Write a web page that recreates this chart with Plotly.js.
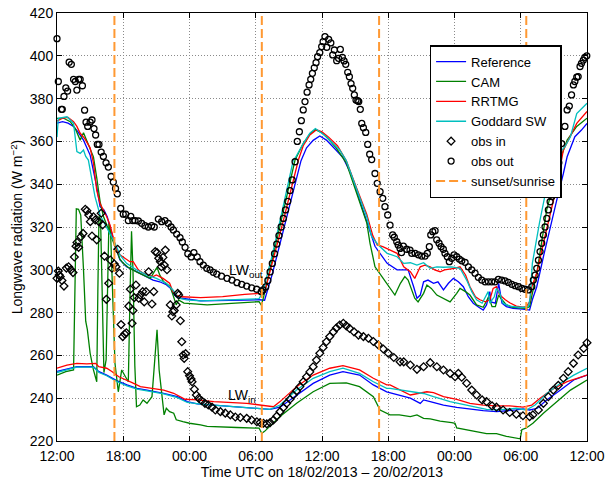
<!DOCTYPE html>
<html>
<head>
<meta charset="utf-8">
<script src="https://cdn.plot.ly/plotly-3.0.1.min.js"></script>
<style>html,body{margin:0;padding:0;background:#fff;}#chart{width:607px;height:480px;}</style>
</head>
<body>
<div id="chart"></div>
<script>
// x values are hours after 12:00 UTC on 18/02/2013
const tickHours = [0, 6, 12, 18, 24, 30, 36, 42, 48];
const tickLabels = ['12:00', '18:00', '00:00', '06:00', '12:00', '18:00', '00:00', '06:00', '12:00'];
const sunTimes = [5.2, 18.55, 29.17, 42.5];

const refOut = [[0,368.5],[0.5,369.2],[1,368.5],[1.5,367],[1.9,364.5],[2.4,360.6],[3,353.6],[3.3,346.6],[3.6,338.8],[3.9,329.5],[4.25,328],[4.55,324.8],[4.95,317],[5.25,311.6],[5.7,304.6],[6.3,301.4],[6.9,300],[7.5,298.4],[8.1,296.8],[8.7,295.2],[9.3,294.4],[9.9,293],[10.3,291.3],[10.5,289],[10.8,287.4],[11.3,286.7],[13,285.5],[15,285.5],[17,285.8],[18.3,286],[18.8,285.8],[19.5,298],[20.5,318],[21.5,338],[22.1,351],[22.6,357],[23.2,360.5],[23.8,362.5],[24.4,360.6],[25.2,356.3],[25.9,352.5],[26.6,345],[27.2,336],[27.9,325],[28.5,315.5],[28.8,311],[29.25,307.7],[29.9,303],[30.8,300],[31.4,300.2],[31.8,300],[32.3,292.1],[32.6,286.7],[32.9,288.2],[33.2,294.4],[33.6,295.2],[34.1,293.7],[34.5,294.4],[35,290.6],[35.45,293.7],[35.9,296],[36.35,294.4],[36.8,292.1],[37.25,287.4],[37.7,284.4],[38.2,282.5],[38.6,281.2],[38.9,283.6],[39.2,289.8],[39.3,285],[39.7,284.4],[40,293.7],[40.3,284.4],[40.7,282.8],[41.3,282],[42.2,281.6],[42.8,281.2],[43.05,286],[43.45,292.1],[44.05,306.1],[44.65,320],[45.26,332.6],[45.86,345],[46.2,352.8],[46.9,362.2],[47.5,365.3],[48,368.4]];
const refIn = [[0,252.5],[1.8,254.7],[3.3,254.7],[3.8,252.4],[4.5,250.8],[5.4,248.2],[6.34,246.2],[7.25,244.6],[8.15,243.8],[9.66,242.3],[10.9,240.7],[11.8,238.4],[12.7,237.3],[14.2,236.8],[17.2,235.8],[19.3,234.8],[20.2,235.8],[21.7,241.5],[23.2,246.9],[24.7,250.8],[25.9,252.4],[27.4,250.8],[28.65,246.2],[29.86,243],[31,241.5],[32,240],[32.9,237.6],[33.2,239.2],[33.8,238.4],[35,236.8],[36.2,235.7],[37.4,234.8],[38.6,234.2],[39.8,233.7],[40.8,234],[41.6,234.5],[42.2,235],[42.8,234.5],[43.5,235.3],[44.35,239.2],[45.6,243.8],[46.8,248.5],[48,250.8]];

const camOut = [[0,370.8],[0.6,370.8],[1.2,369.2],[1.65,366],[2.1,360.6],[2.4,364],[2.8,359],[3.3,352.8],[3.6,343],[3.9,332],[4.2,325],[4.5,321],[4.8,317],[5.1,313],[5.4,309],[5.7,305],[6,303],[6.5,301],[7.2,299],[8,297],[8.45,296],[8.8,299],[9.06,301.2],[9.3,297.6],[9.66,294.4],[10.26,292.1],[10.6,286.7],[10.8,283.6],[11,285.9],[11.5,284.4],[13.6,283.6],[16,284.3],[18.3,285.1],[18.5,283.5],[18.7,287],[19.5,305],[20.5,327],[21.56,351.3],[22.3,359],[22.9,363.5],[23.4,365.5],[24,364],[24.6,361],[25.2,357.5],[26.2,350],[27.15,336],[28.05,322],[28.35,312.4],[28.8,301.4],[29,300],[29.55,296],[30.2,291.3],[30.6,288.2],[31.1,293.7],[31.5,296.8],[31.8,295.2],[32.1,290.6],[32.4,286.7],[32.7,285],[33.2,289],[33.5,292.9],[33.9,291.3],[34.4,288.2],[35,286.7],[35.6,285],[36.2,289],[36.5,291.3],[37,289.8],[37.4,288.2],[38,283.6],[38.6,282.5],[39.1,287.4],[39.4,282.8],[39.7,282.8],[40,288.2],[40.3,286],[40.7,283.6],[41.3,282.5],[42.1,282],[42.5,282],[42.8,282.8],[43.1,289.8],[43.5,300],[44.35,328],[45,341],[45.6,352],[46.2,360.6],[47.07,367],[48,370.8]];
const camIn = [[0,250.8],[0.8,252.4],[1.5,253.2],[1.62,300],[1.75,328.5],[1.95,328.3],[2.15,325.6],[2.4,300],[2.6,276],[2.75,272],[3,261],[3.3,253.2],[3.6,247.7],[3.7,290],[3.8,325],[3.95,323],[4.1,290],[4.25,252],[4.45,258],[4.6,300],[4.7,321.7],[4.85,318],[5.05,290],[5.25,256.3],[5.55,243],[5.86,253.2],[6.2,250],[6.46,247.7],[6.62,290],[6.75,318],[6.88,300],[7.05,255],[7.2,236],[7.5,236.8],[7.8,239.2],[8.15,237.6],[8.6,240.7],[8.9,261],[9.06,272],[9.25,253.2],[9.63,236],[9.7,232.2],[9.9,235.3],[10.2,233.7],[10.57,233],[10.8,229.9],[11.4,229],[12,228.3],[13,227.5],[13.6,226.8],[16.3,226.3],[18.3,226],[18.4,225],[18.55,223.6],[18.8,224.5],[19.3,226.8],[20.2,231.4],[21.7,237.6],[23.2,243],[24.7,246.9],[26.2,247.2],[27.4,245.4],[28.65,240.7],[29.26,234.5],[30.16,232.2],[31,232.2],[32,231.4],[32.6,232.2],[33.2,230.6],[33.8,230.3],[34.7,229.3],[35.75,228.6],[36.05,228.3],[36.2,226.1],[37.1,225.3],[38,224.5],[38.9,223.4],[39.8,223.4],[40.7,222.2],[41.95,221],[42.1,225.3],[42.5,226.1],[43.1,228.3],[44.05,233],[45.25,238.4],[46.5,243.8],[48,248.5]];

const rrtmgOut = [[0,369.5],[0.5,370.8],[1,371.2],[1.5,369.2],[1.8,367],[2.1,363.8],[2.5,361.4],[3,357],[3.3,350],[3.6,337],[3.9,331],[4.2,328],[4.5,324.8],[4.8,321],[5.1,315.5],[5.35,310],[5.7,307],[6.16,305.4],[6.6,303.8],[6.9,303.8],[7.36,300],[7.8,298.4],[8.7,296.8],[9,297.6],[9.6,296],[10.2,293.7],[10.5,289.8],[10.8,288.2],[11.3,287.4],[13,287],[15,287.5],[17,288.5],[18.4,289],[18.8,289.5],[19.5,303],[20.5,323],[21.86,351.3],[22.3,358],[22.9,363],[23.5,365.5],[24,364.5],[24.6,362],[25.4,358],[26.2,351],[27.15,338],[28.05,326],[28.6,316],[29,311.6],[29.5,310.8],[30.16,309.2],[30.8,307.7],[31.4,301.4],[32,299.1],[32.4,296],[32.9,301.4],[33.3,302.2],[33.8,301.4],[34.2,300],[34.7,299.1],[35.1,300],[35.6,300.2],[36,300.7],[36.5,301.4],[37,297.6],[37.4,292.1],[37.9,287.4],[38.3,286],[38.8,285],[39.2,286],[39.5,291.3],[39.8,292.1],[40.1,288.2],[40.6,286],[41,284.6],[41.6,283],[42.2,282.5],[42.5,282.8],[42.8,285],[43,292.1],[43.45,298.4],[44.05,312.4],[44.65,326.4],[45.25,338.8],[45.86,356],[46.6,363.8],[47.07,368.4],[48,374]];
const rrtmgIn = [[0,254],[0.9,255.5],[1.8,256.3],[2.7,256],[3.5,256.3],[3.78,254.7],[4.5,254],[5,252.4],[5.6,250],[6.2,248.8],[6.8,247.3],[7.55,245.4],[8.45,244.6],[9.66,243.8],[10.57,242.3],[11.6,239.5],[12.7,239.2],[14.2,238.4],[17.2,237.6],[19.6,236],[20.2,238.4],[21.7,245.4],[23.2,250.8],[24.7,254],[25.9,255.2],[27.4,253.2],[28.65,249.3],[29.86,246.2],[30.16,246.2],[32,241.5],[33.5,243],[34.1,242.6],[35,240.7],[36.2,239.5],[37.4,237.6],[38.6,236.8],[39.8,236.4],[41,236.4],[42.2,235.8],[43,236.8],[43.75,240],[45,244.6],[46.2,247.7],[48,250.8]];

const goddardOut = [[0,362],[0.12,370.8],[0.9,371.5],[1.5,368.4],[1.8,355.2],[2.1,354.4],[2.4,356],[2.6,353],[2.84,351.3],[3.14,342],[3.44,334.2],[3.9,325.6],[4.5,320],[5.1,313.9],[5.4,310.8],[5.7,307],[6.3,303],[7.2,300],[8.1,297.6],[9,296],[9.9,293.7],[10.5,290.6],[11,286.7],[11.75,285.9],[13,285.5],[15,285.8],[17,286.3],[18.3,286.5],[18.6,289],[19.5,307],[20.5,330],[21.4,351.3],[21.6,352.5],[22.3,359],[22.9,363.8],[23.4,366],[23.8,364.5],[24.4,362.2],[25,359],[25.6,356],[26.2,351],[27.15,337.3],[28.05,324.8],[28.5,315.5],[28.7,314],[29.1,311.6],[29.9,307.7],[30.8,306.1],[31.4,303],[32,303.3],[32.6,302.2],[33.2,303.3],[33.8,300.7],[34.4,301.4],[35,301.2],[35.75,301.4],[36.5,300.7],[37.1,295.2],[37.56,289.8],[38,286],[38.5,284.4],[38.9,288.2],[39.05,289.8],[39.2,284.4],[39.6,287.4],[39.8,291.3],[40.1,289],[40.4,284.4],[41,283],[41.8,282.5],[42.4,282.5],[42.7,283],[42.85,287],[43.05,303],[43.7,322],[44.35,338.8],[44.95,351.3],[46,357.5],[46.5,362.2],[47.07,373],[48,377.8]];
const goddardIn = [[0,252],[1.8,254.5],[3.3,254.5],[3.8,252],[4.5,250.5],[5.4,247.8],[6.34,245.8],[7.25,244.2],[8.15,243.4],[9.66,242],[10.9,240.3],[11.8,238],[13,237.2],[14.2,236.8],[17.2,235.8],[19.3,234.8],[20.2,236.8],[21.7,243.8],[23.2,249.3],[24.7,252.4],[25.9,254],[27.4,251.6],[28.65,247.7],[29.86,244.6],[30.16,244.6],[32,243],[33.2,242.2],[34.1,240.7],[35.6,238.4],[37.4,236.4],[38.9,234.8],[40,234.5],[41.6,235.3],[42.5,234.5],[43.3,236.8],[44.35,242.2],[45.6,247],[46.8,250.8],[48,254]];

const obsIn = [[0,296],[0.12,299.4],[0.2,297.6],[0.3,296.8],[0.45,295],[0.63,292.4],[0.85,300.8],[1.05,301.4],[1.27,300],[1.45,298.7],[1.57,306],[1.72,311],[1.81,312.8],[1.96,310.5],[2.17,315.5],[2.36,317],[2.56,328.3],[2.71,327.6],[2.87,325.6],[3.02,322.5],[3.17,315.8],[3.3,324.8],[3.47,323.3],[3.6,314],[3.8,322.5],[4,326.4],[4.13,321],[4.3,306.4],[4.47,286.2],[4.68,293.7],[4.83,304.6],[4.98,300.7],[5.19,302.7],[5.34,301.4],[5.5,309.6],[5.65,298.4],[5.8,274.4],[5.95,268.8],[6.13,270],[6.28,270.6],[6.5,283],[6.64,290.9],[6.8,275],[6.88,281],[7,287],[7.15,292.9],[7.4,286.7],[7.55,288.2],[7.76,289.8],[7.9,285],[8.06,289.8],[8.3,299.1],[8.6,284],[8.76,289.8],[8.9,308.5],[9.06,308],[9.21,305.4],[9.36,303.8],[9.45,301.4],[9.6,305.8],[9.72,302.2],[9.81,309.2],[9.96,300],[10.26,283.6],[10.4,278.4],[10.5,280.4],[10.62,281],[10.8,283.6],[10.93,289],[11.02,288.2],[11.17,276.2],[11.3,266.4],[11.42,260.2],[11.52,258.6],[11.65,260.8],[11.84,252.4],[12,250.5],[12.14,249],[12.23,247.7],[12.44,244.2],[12.62,241.5],[12.83,240],[13.1,238.8],[13.4,237.6],[13.7,236.8],[14.04,235.8],[14.34,234.5],[14.8,233.7],[15.24,233],[15.7,232.2],[16.15,231.2],[16.6,231],[17.18,230.6],[17.63,229.8],[18.1,229],[18.4,228.6],[18.7,228.3],[19,228],[19.3,228.6],[19.6,229.8],[19.9,231.6],[20.2,233.7],[20.5,235.6],[20.8,237.6],[21.1,239.5],[21.4,241.5],[21.7,243.4],[22,245.4],[22.3,247.7],[22.6,250],[22.9,252.3],[23.2,254.7],[23.5,257.8],[23.8,261],[24.1,263.7],[24.4,266.4],[24.7,268.8],[25.03,271],[25.3,272.8],[25.6,274.2],[25.93,275],[26.2,273.8],[26.5,272.6],[26.9,271],[27.3,269.5],[27.75,268.8],[28.2,268],[28.65,266.5],[29.1,264.9],[29.55,263],[30,261],[30.5,259],[31.07,257],[31.4,257],[32,255.5],[32.6,253.5],[33.2,254.7],[33.8,256.6],[34.4,254.7],[35,253.2],[35.6,251.6],[36.05,250],[36.35,251.6],[36.65,249.8],[37.1,247],[37.56,243.8],[38,241.5],[38.5,239.2],[38.9,238.4],[39.4,236.4],[39.8,235.8],[40.4,234.5],[41,233.3],[41.6,232.5],[42.2,231.8],[42.8,231.4],[43.1,232.2],[43.6,234.5],[44.05,237.6],[44.5,240.7],[44.95,243.8],[45.4,246],[45.86,249.3],[46.3,252.4],[46.77,256.3],[47.2,260.2],[47.7,263.3],[48,265.9]];

const obsOut = [[0,408],[0.12,388],[0.4,375],[0.48,375],[0.63,381],[0.8,385],[0.96,383.5],[1.1,397],[1.3,396],[1.5,389],[1.66,388],[1.8,384],[1.96,389],[2.1,389],[2.3,386],[2.5,374.6],[2.63,369],[2.78,367],[3,369],[3.17,370],[3.35,366],[3.5,363],[3.65,358.6],[3.8,358.6],[4,355],[4.2,353],[4.44,350],[4.65,348],[4.9,343.6],[5.1,341],[5.3,338],[5.46,335.5],[5.77,328.7],[6,326],[6.22,326],[6.46,323],[6.68,325],[6.86,323],[7.07,323],[7.37,322.8],[7.67,321.7],[7.97,320.6],[8.27,320],[8.57,320.6],[8.81,320],[9.18,323.7],[9.48,322.5],[9.78,323],[10.08,321.7],[10.33,320],[10.54,318.6],[10.84,316.7],[11.14,315],[11.35,313],[11.6,310.5],[11.85,307.5],[12.15,306],[12.4,308],[12.7,306],[12.95,303.8],[13.25,302.2],[13.56,300.7],[13.86,300],[14.16,298.8],[14.47,298],[14.9,297],[15.4,296],[15.85,295.2],[16.3,294],[16.73,293.2],[17.18,292.4],[17.63,291.6],[18.08,290.9],[18.5,289.8],[18.66,290.6],[18.9,292],[19.1,295],[19.3,299],[19.5,303],[19.7,307.5],[19.9,312],[20.1,316],[20.3,320],[20.5,324],[20.7,328],[20.9,332],[21.1,337],[21.3,342],[21.56,350.5],[21.76,360],[21.95,364.5],[22.13,369.7],[22.3,374.7],[22.46,378.6],[22.65,383],[22.83,386.4],[22.98,389],[23.13,391.8],[23.3,394.4],[23.46,396.8],[23.6,399.6],[23.8,401.5],[23.97,404.3],[24.1,406.6],[24.27,409],[24.43,404],[24.6,407.7],[24.8,406],[24.97,400.4],[25.12,402.7],[25.33,397.7],[25.5,398.8],[25.66,403],[25.84,399.3],[26,397.6],[26.15,396],[26.33,392.3],[26.48,390.2],[26.63,387],[26.78,384.8],[26.93,381.7],[27.08,379.3],[27.24,379],[27.33,378.6],[27.47,375],[27.6,368.4],[27.75,366.4],[27.96,364.2],[28.14,358.6],[28.32,354],[28.5,351.5],[28.8,345],[29,340.4],[29.26,336.5],[29.5,333.4],[29.7,329.5],[29.95,325.6],[30.16,320.9],[30.4,316.3],[30.55,315.2],[30.77,313.1],[30.9,311.6],[31.07,310],[31.2,308],[31.37,311.1],[31.67,309.6],[31.97,309.2],[32.13,307.7],[32.43,307.7],[32.73,307],[33.03,306.4],[33.33,306.4],[33.54,307.7],[33.72,310.8],[33.85,316.3],[34.03,317.8],[34.24,318.3],[34.39,314],[34.6,312.4],[34.78,310.8],[34.99,309.6],[35.14,307.7],[35.35,306.1],[35.53,303.8],[35.75,305.4],[35.96,307],[36.2,306.1],[36.44,305],[36.66,304.2],[36.96,303.5],[37.26,301.4],[37.56,300],[37.86,298.4],[38.16,296.5],[38.47,295.2],[38.77,294.4],[39.07,294.4],[39.37,294.4],[39.67,294.4],[39.97,295.5],[40.28,295.2],[40.58,294.8],[40.88,294.1],[41.19,293.2],[41.49,292.6],[41.79,292.1],[42.1,291.3],[42.39,290.9],[42.69,290.6],[43,292.1],[43.14,295.2],[43.3,297.5],[43.45,300.7],[43.6,304.5],[43.75,308.5],[43.9,312.4],[44.05,316.3],[44.2,320],[44.36,324],[44.5,328],[44.66,331.8],[44.81,334.2],[44.95,335.7],[45.2,342],[45.45,350],[45.7,359],[46,367],[46.2,374.7],[46.4,376.5],[46.6,381.7],[46.77,386.4],[46.9,388],[47.07,390],[47.2,390.3],[47.37,395],[47.5,396.5],[47.67,398],[47.8,399.3],[47.98,400]];

const COL = {ref: '#0000FF', cam: '#008000', rrtmg: '#FF0000', goddard: '#00BFBF', sun: '#FF9933'};
const FONT = 'Liberation Sans, Arial, Helvetica, sans-serif';
const xs = a => a.map(p => p[0]);
const ys = a => a.map(p => p[1]);

function lineTrace(data, name, color, show) {
  return {x: xs(data), y: ys(data), type: 'scatter', mode: 'lines', name: name,
          line: {color: color, width: 1.3}, showlegend: show, hoverinfo: 'skip'};
}

const sunX = [], sunY = [];
sunTimes.forEach(t => { sunX.push(t, t, null); sunY.push(220, 420, null); });

const traces = [
  lineTrace(refOut, 'Reference', COL.ref, true),
  lineTrace(refIn, 'Reference', COL.ref, false),
  lineTrace(camOut, 'CAM', COL.cam, true),
  lineTrace(camIn, 'CAM', COL.cam, false),
  lineTrace(rrtmgOut, 'RRTMG', COL.rrtmg, true),
  lineTrace(rrtmgIn, 'RRTMG', COL.rrtmg, false),
  lineTrace(goddardOut, 'Goddard SW', COL.goddard, true),
  lineTrace(goddardIn, 'Goddard SW', COL.goddard, false),
  {x: xs(obsIn), y: ys(obsIn), type: 'scatter', mode: 'markers', name: 'obs in', cliponaxis: false,
   marker: {symbol: 'diamond-open', size: 6, color: '#000', line: {width: 1.3, color: '#000'}}},
  {x: xs(obsOut), y: ys(obsOut), type: 'scatter', mode: 'markers', name: 'obs out', cliponaxis: false,
   marker: {symbol: 'circle-open', size: 6, color: '#000', line: {width: 1.3, color: '#000'}}},
  {x: sunX, y: sunY, type: 'scatter', mode: 'lines', name: 'sunset/sunrise', connectgaps: false,
   line: {color: COL.sun, width: 2, dash: '9px,4px'}}
];

const axisCommon = {
  showline: true, mirror: 'ticks', linecolor: '#000', linewidth: 1,
  ticks: 'inside', ticklen: 5, tickcolor: '#000', tickwidth: 1,
  showgrid: true, gridcolor: '#8a8a8a', gridwidth: 1, griddash: '1px,2px',
  zeroline: false, tickfont: {family: FONT, size: 14, color: '#000'}, automargin: false
};

const layout = {
  width: 607, height: 480,
  margin: {l: 57, r: 20, t: 13, b: 39},
  paper_bgcolor: '#fff', plot_bgcolor: '#fff',
  font: {family: FONT, size: 14, color: '#000'},
  xaxis: Object.assign({}, axisCommon, {
    range: [0, 48], tickmode: 'array', tickvals: tickHours, ticktext: tickLabels, ticklabelstandoff: 2,
    title: {text: 'Time UTC on 18/02/2013 \u2013 20/02/2013', font: {family: FONT, size: 14, color: '#000'}, standoff: 1}
  }),
  yaxis: Object.assign({}, axisCommon, {
    range: [220, 420], tick0: 220, dtick: 20,
    title: {text: 'Longwave radiation (W m<sup>\u22122</sup>)', font: {family: FONT, size: 14, color: '#000'}, standoff: 3}
  }),
  legend: {
    x: 0.703, y: 0.925, xanchor: 'left', yanchor: 'top',
    bgcolor: '#fff', bordercolor: '#000', borderwidth: 1.5, tracegroupgap: 0,
    font: {family: FONT, size: 13, color: '#000'}, itemwidth: 30
  },
  showlegend: true,
  annotations: [
    {x: 15.4, y: 299.5, xref: 'x', yref: 'y', xanchor: 'left', yanchor: 'middle', showarrow: false,
     text: 'LW<sub>out</sub>', font: {family: FONT, size: 14, color: '#000'}},
    {x: 15.35, y: 240.8, xref: 'x', yref: 'y', xanchor: 'left', yanchor: 'middle', showarrow: false,
     text: 'LW<sub>in</sub>', font: {family: FONT, size: 14, color: '#000'}}
  ]
};

Plotly.newPlot('chart', traces, layout, {displayModeBar: false, staticPlot: true});
</script>
</body>
</html>
